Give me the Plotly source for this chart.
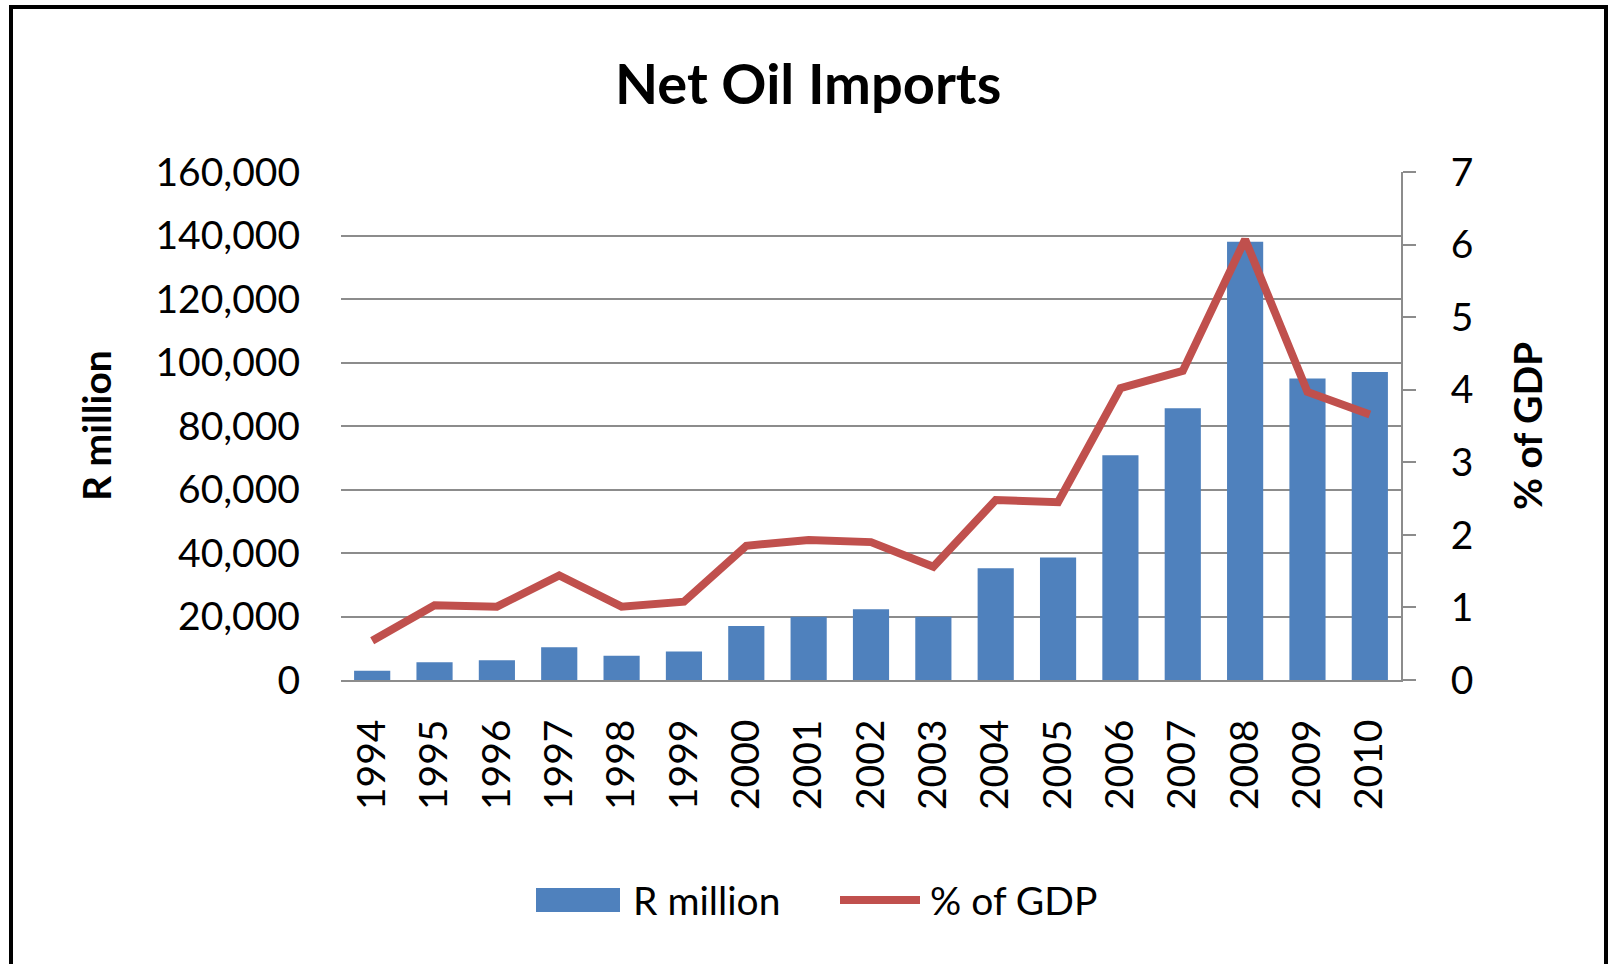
import plotly.graph_objects as go

# Net oil imports, 1994-2010
years = ["1994", "1995", "1996", "1997", "1998", "1999", "2000", "2001", "2002",
         "2003", "2004", "2005", "2006", "2007", "2008", "2009", "2010"]
r_million = [2900, 5600, 6250, 10300, 7600, 8950, 17000, 19900, 22300,
             19900, 35200, 38600, 70800, 85600, 138000, 95000, 97000]
pct_gdp = [0.54, 1.03, 1.01, 1.44, 1.01, 1.08, 1.85, 1.93, 1.90,
           1.56, 2.48, 2.45, 4.02, 4.26, 6.07, 3.97, 3.66]

left_ticks = list(range(0, 160001, 20000))
right_ticks = list(range(0, 8))

W, H = 1608, 964
L, R, T, B = 341, 1401, 172, 680  # plot area in pixels

BLUE = "#4F81BD"
RED = "#C0504D"
GRID = "#8C8C8C"
FONT = "Lato"


def px_x(p):
    return (p - L) / (R - L)


def px_y(p):
    return (B - p) / (B - T)


fig = go.Figure()
fig.add_trace(go.Bar(x=years, y=r_million, name="R million", marker_color=BLUE,
                     marker_line_width=0, yaxis="y"))
fig.add_trace(go.Scatter(x=years, y=pct_gdp, name="% of GDP", mode="lines",
                         line=dict(color=RED, width=8), yaxis="y2"))

fig.update_layout(
    width=W, height=H,
    margin=dict(l=L, r=W - R, t=T, b=H - B),
    paper_bgcolor="white", plot_bgcolor="white",
    showlegend=False, bargap=0.42,
    font=dict(family=FONT, size=39, color="#000000"),
    xaxis=dict(type="category", tickangle=-90, showgrid=False, showline=True,
               linecolor=GRID, linewidth=2, ticks="", ticklabelstandoff=22,
               tickfont=dict(size=39)),
    yaxis=dict(range=[0, 160000], tickvals=left_ticks, tickformat=",",
               showgrid=True, gridcolor=GRID, gridwidth=2, zeroline=False,
               showline=False, ticks="", ticklabelstandoff=40,
               tickfont=dict(size=39)),
    yaxis2=dict(range=[0, 7], tickvals=right_ticks, overlaying="y", side="right",
                showgrid=False, zeroline=False, showline=True, linecolor=GRID,
                linewidth=2, ticks="outside", ticklen=13, tickwidth=2,
                tickcolor=GRID, ticklabelstandoff=27, tickfont=dict(size=39)),
)

annotations = [
    dict(text="<b>Net Oil Imports</b>", x=px_x(808), y=px_y(82), xref="paper", yref="paper",
         showarrow=False, xanchor="center", yanchor="middle", font=dict(size=56)),
    dict(text="<b>R million</b>", x=px_x(96), y=px_y(426), xref="paper", yref="paper",
         showarrow=False, textangle=-90, xanchor="center", yanchor="middle",
         font=dict(size=39)),
    dict(text="<b>% of GDP</b>", x=px_x(1527), y=px_y(426), xref="paper", yref="paper",
         showarrow=False, textangle=-90, xanchor="center", yanchor="middle",
         font=dict(size=39)),
    dict(text="R million", x=px_x(631), y=px_y(900), xref="paper", yref="paper",
         showarrow=False, xanchor="left", yanchor="middle", font=dict(size=39)),
    dict(text="% of GDP", x=px_x(928), y=px_y(900), xref="paper", yref="paper",
         showarrow=False, xanchor="left", yanchor="middle", font=dict(size=39)),
]

shapes = [
    # legend keys
    dict(type="rect", xref="paper", yref="paper", x0=px_x(536), x1=px_x(620),
         y0=px_y(912), y1=px_y(888), fillcolor=BLUE, line=dict(width=0)),
    dict(type="line", xref="paper", yref="paper", x0=px_x(840), x1=px_x(920),
         y0=px_y(900), y1=px_y(900), line=dict(color=RED, width=8)),
    # outer frame
    dict(type="rect", xref="paper", yref="paper", x0=px_x(11), x1=px_x(1606),
         y0=px_y(7), y1=px_y(1000), line=dict(color="#000000", width=4),
         fillcolor="rgba(0,0,0,0)", layer="above"),
]

fig.update_layout(annotations=annotations, shapes=shapes)
fig.write_html("out.html")
